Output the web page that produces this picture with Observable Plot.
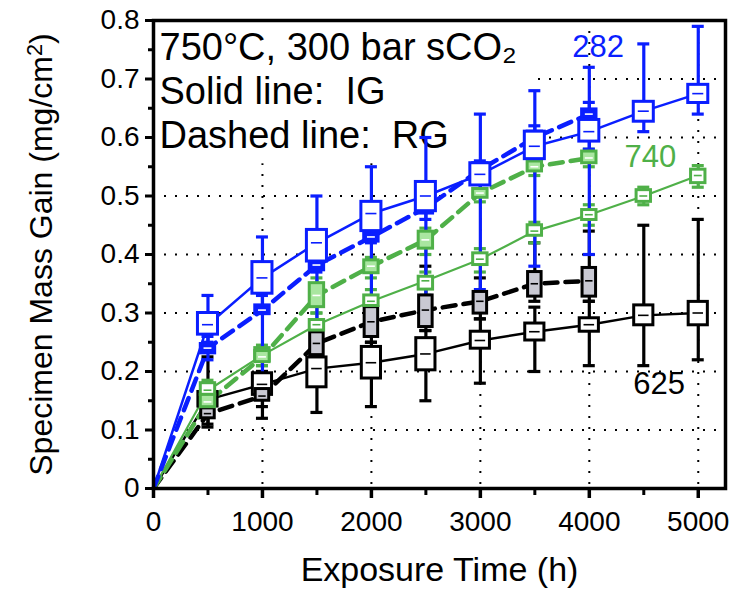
<!DOCTYPE html>
<html>
<head>
<meta charset="utf-8">
<script src="https://cdn.jsdelivr.net/npm/d3@7"></script>
<script src="https://cdn.jsdelivr.net/npm/@observablehq/plot@0.6"></script>
<style>
  html, body { margin: 0; padding: 0; background: white; }
</style>
</head>
<body>
<div id="chart"></div>
<script>
// ---------- data ----------
const times   = [500, 1000, 1500, 2000, 2500, 3000, 3500, 4000, 4500, 5000];
const timesRG = [500, 1000, 1500, 2000, 2500, 3000, 3500, 4000];

// alloy 282 (blue)
const b282IG_mean = [0.28, 0.36, 0.42, 0.47, 0.50, 0.537, 0.585, 0.61, 0.645, 0.675];
const b282IG_q1   = [0.263, 0.333, 0.388, 0.440, 0.474, 0.518, 0.563, 0.593, 0.627, 0.659];
const b282IG_q3   = [0.300, 0.387, 0.442, 0.490, 0.524, 0.556, 0.610, 0.630, 0.661, 0.690];
const b282IG_lo   = [0.25, 0.31, 0.37, 0.42, 0.46, 0.50, 0.55, 0.58, 0.61, 0.64];
const b282IG_hi   = [0.33, 0.43, 0.50, 0.55, 0.60, 0.64, 0.68, 0.72, 0.76, 0.79];

const b282RG_mean = [0.24, 0.305, 0.382, 0.43, 0.48, 0.545, 0.60, 0.64];
const b282RG_q1   = [0.231, 0.298, 0.373, 0.422, 0.470, 0.536, 0.592, 0.630];
const b282RG_q3   = [0.247, 0.313, 0.390, 0.439, 0.490, 0.556, 0.610, 0.648];
const b282RG_lo   = [0.22, 0.19, 0.27, 0.31, 0.33, 0.34, 0.38, 0.40];
const b282RG_hi   = [0.26, 0.33, 0.40, 0.45, 0.50, 0.56, 0.62, 0.66];

// alloy 740 (green)
const g740IG_mean = [0.168, 0.228, 0.28, 0.32, 0.355, 0.392, 0.44, 0.468, 0.50, 0.535];
const g740IG_q1   = [0.160, 0.218, 0.270, 0.312, 0.340, 0.382, 0.432, 0.459, 0.490, 0.522];
const g740IG_q3   = [0.180, 0.240, 0.288, 0.330, 0.362, 0.402, 0.450, 0.476, 0.510, 0.545];
const g740IG_lo   = [0.155, 0.21, 0.26, 0.30, 0.33, 0.37, 0.42, 0.45, 0.485, 0.515];
const g740IG_hi   = [0.185, 0.245, 0.30, 0.34, 0.37, 0.41, 0.455, 0.485, 0.515, 0.552];

const g740RG_mean = [0.148, 0.225, 0.33, 0.38, 0.425, 0.505, 0.55, 0.565];
const g740RG_q1   = [0.139, 0.216, 0.310, 0.368, 0.410, 0.497, 0.542, 0.556];
const g740RG_q3   = [0.160, 0.235, 0.351, 0.390, 0.439, 0.512, 0.559, 0.576];
const g740RG_lo   = [0.135, 0.21, 0.30, 0.36, 0.40, 0.49, 0.535, 0.55];
const g740RG_hi   = [0.165, 0.24, 0.36, 0.395, 0.445, 0.52, 0.565, 0.58];

// alloy 625 (black)
const k625IG_mean = [0.152, 0.178, 0.205, 0.215, 0.23, 0.253, 0.268, 0.28, 0.296, 0.30];
const k625IG_q1   = [0.140, 0.160, 0.173, 0.188, 0.202, 0.239, 0.253, 0.268, 0.279, 0.279];
const k625IG_q3   = [0.165, 0.197, 0.224, 0.242, 0.257, 0.268, 0.282, 0.291, 0.313, 0.319];
const k625IG_lo   = [0.105, 0.12, 0.13, 0.14, 0.15, 0.18, 0.20, 0.21, 0.21, 0.22];
const k625IG_hi   = [0.18, 0.20, 0.23, 0.25, 0.27, 0.29, 0.31, 0.32, 0.45, 0.46];

const k625RG_mean = [0.128, 0.158, 0.248, 0.285, 0.305, 0.32, 0.35, 0.355];
const k625RG_q1   = [0.120, 0.150, 0.228, 0.259, 0.276, 0.299, 0.328, 0.328];
const k625RG_q3   = [0.137, 0.170, 0.267, 0.310, 0.330, 0.336, 0.370, 0.377];
const k625RG_lo   = [0.11, 0.14, 0.22, 0.25, 0.27, 0.29, 0.32, 0.32];
const k625RG_hi   = [0.225, 0.20, 0.27, 0.32, 0.38, 0.36, 0.42, 0.44];

// labels and ticks
const xTicks      = [0, 1000, 2000, 3000, 4000, 5000];
const xMinorTicks = [500, 1500, 2500, 3500, 4500];
const yTicks      = [0, 0.1, 0.2, 0.3, 0.4, 0.5, 0.6, 0.7, 0.8];
const yMinorTicks = [0.05, 0.15, 0.25, 0.35, 0.45, 0.55, 0.65, 0.75];
const yGrid       = [0.1, 0.2, 0.3, 0.4, 0.5, 0.6, 0.7];
const xGrid       = [1000, 2000, 3000, 4000, 5000];
const alloyNames  = ["282", "740", "625"];
const alloyLabelX = [4080, 4560, 4640];
const alloyLabelY = [0.755, 0.567, 0.178];
const annotation  = ["750°C, 300 bar sCO₂", "Solid line:  IG", "Dashed line:  RG"];
const xTitle = "Exposure Time (h)";
const yTitle = "Specimen Mass Gain (mg/cm2)";

// ---------- styles ----------
const BLUE = "#0a1eff", GREEN = "#4fb048", BLACK = "#000000";
const LIGHTGREEN = "#a9e6a0", GRAY = "#c9c9d3";

function build(t, mean, q1, q3, lo, hi) {
  return t.map((x, i) => ({t: x, mean: mean[i], q1: q1[i], q3: q3[i], lo: lo[i], hi: hi[i]}));
}
const S = [
  {key: "kIG", data: build(times,   k625IG_mean, k625IG_q1, k625IG_q3, k625IG_lo, k625IG_hi), color: BLACK, fill: "white", dash: null, lw: 2.4, hw: 88, mid: BLACK},
  {key: "kRG", data: build(timesRG, k625RG_mean, k625RG_q1, k625RG_q3, k625RG_lo, k625RG_hi), color: BLACK, fill: GRAY, dash: "13,8", lw: 4.5, hw: 62, mid: BLACK},
  {key: "gIG", data: build(times,   g740IG_mean, g740IG_q1, g740IG_q3, g740IG_lo, g740IG_hi), color: GREEN, fill: "white", dash: null, lw: 2.2, hw: 66, mid: GREEN},
  {key: "gRG", data: build(timesRG, g740RG_mean, g740RG_q1, g740RG_q3, g740RG_lo, g740RG_hi), color: GREEN, fill: LIGHTGREEN, dash: "13,8", lw: 4.5, hw: 66, mid: "white"},
  {key: "bRG", data: build(timesRG, b282RG_mean, b282RG_q1, b282RG_q3, b282RG_lo, b282RG_hi), color: BLUE, fill: BLUE, dash: "13,8", lw: 4.5, hw: 66, mid: "white"},
  {key: "bIG", data: build(times,   b282IG_mean, b282IG_q1, b282IG_q3, b282IG_lo, b282IG_hi), color: BLUE, fill: "white", dash: null, lw: 2.5, hw: 92, mid: BLUE}
];
const CAP = 55;

const marks = [];
// dotted grid
marks.push(Plot.ruleY(yGrid, {stroke: "black", strokeWidth: 2, strokeDasharray: "2,9"}));
marks.push(Plot.ruleX(xGrid, {stroke: "black", strokeWidth: 2, strokeDasharray: "2,9"}));
// white annotation box background
marks.push(Plot.rect([{x1: 0, x2: 3520, y1: 0.555, y2: 0.8}], {x1: "x1", x2: "x2", y1: "y1", y2: "y2", fill: "white"}));
// annotation text
marks.push(Plot.text([annotation.join("\n")], {frameAnchor: "top-left", dx: 6, dy: 8, textAnchor: "start", lineAnchor: "top", lineHeight: 1.16, fontSize: 38, fill: "black"}));
// lines from origin
for (const s of S) {
  const pts = [{t: 0, mean: 0}, ...s.data];
  marks.push(Plot.line(pts, {x: "t", y: "mean", stroke: s.color, strokeWidth: s.lw, strokeDasharray: s.dash, curve: "linear"}));
}
// whiskers, boxes
for (const s of S) {
  const sw = 3.2;
  marks.push(Plot.ruleX(s.data, {x: "t", y1: "lo", y2: "hi", stroke: s.color, strokeWidth: sw}));
  marks.push(Plot.ruleY(s.data, {y: "hi", x1: d => d.t - CAP, x2: d => d.t + CAP, stroke: s.color, strokeWidth: sw}));
  marks.push(Plot.ruleY(s.data, {y: "lo", x1: d => d.t - CAP, x2: d => d.t + CAP, stroke: s.color, strokeWidth: sw}));
}
for (const s of S) {
  marks.push(Plot.rect(s.data, {x1: d => d.t - s.hw, x2: d => d.t + s.hw, y1: "q1", y2: "q3", fill: s.fill, stroke: s.color, strokeWidth: 3}));
  marks.push(Plot.ruleY(s.data, {y: "mean", x1: d => d.t - s.hw * 0.55, x2: d => d.t + s.hw * 0.55, stroke: s.mid, strokeWidth: 1.6}));
}
// alloy labels
const labelColors = [BLUE, GREEN, BLACK];
marks.push(Plot.text(alloyNames, {x: (d, i) => alloyLabelX[i], y: (d, i) => alloyLabelY[i], text: d => d, fill: (d, i) => labelColors[i], fontSize: 31}));
// frame and axes
marks.push(Plot.frame({stroke: "black", strokeWidth: 3.5}));
marks.push(Plot.axisX({ticks: xTicks, tickSize: 10, tickPadding: 13, fontSize: 28, strokeWidth: 3.5, label: null, tickFormat: d => String(d)}));
marks.push(Plot.axisX({ticks: xMinorTicks, tickSize: 7, strokeWidth: 3, text: null, label: null}));
marks.push(Plot.axisY({ticks: yTicks, tickSize: 8, tickPadding: 6, fontSize: 28, strokeWidth: 3, label: null, tickFormat: d => d === 0 ? "0" : d.toFixed(1)}));
marks.push(Plot.axisY({ticks: yMinorTicks, tickSize: 5, strokeWidth: 3, text: null, label: null}));
marks.push(Plot.text([xTitle], {frameAnchor: "bottom", dy: 92, fontSize: 34, fill: "black", textAnchor: "middle"}));
marks.push(Plot.text([yTitle], {frameAnchor: "left", dx: -112, rotate: -90, fontSize: 32, fill: "black", textAnchor: "middle", className: "ylab"}));

const chart = Plot.plot({
  width: 734,
  height: 597,
  marginLeft: 153,
  marginRight: 9,
  marginTop: 20,
  marginBottom: 109,
  x: {domain: [0, 5250]},
  y: {domain: [0, 0.8]},
  style: {fontFamily: "'Liberation Sans', Arial, Helvetica, sans-serif", background: "white", color: "black"},
  marks
});
document.getElementById("chart").appendChild(chart);

// superscript 2 in the y title
d3.select(chart).selectAll(".ylab text").each(function() {
  const t = d3.select(this);
  t.text("Specimen Mass Gain (mg/cm");
  t.append("tspan").attr("dy", "-0.45em").attr("font-size", "0.68em").text("2");
  t.append("tspan").attr("dy", "0.3em").text(")");
});
</script>
</body>
</html>
